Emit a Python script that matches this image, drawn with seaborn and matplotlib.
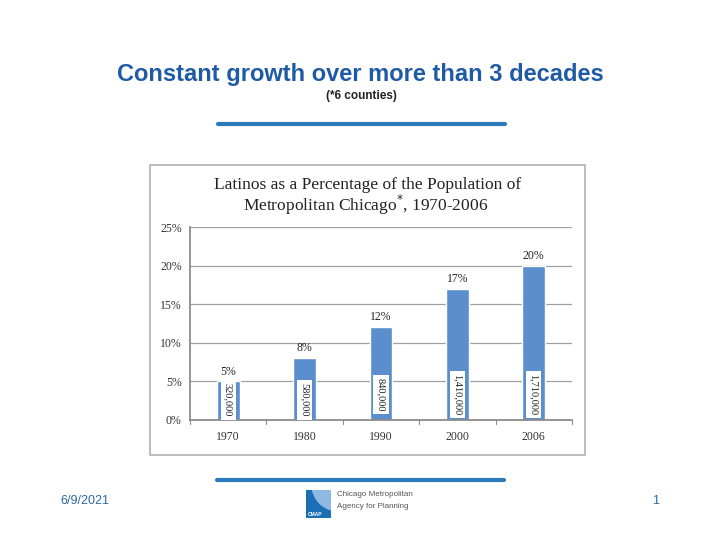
import numpy as np
import pandas as pd
import matplotlib.pyplot as plt
import matplotlib.patches as mpatches
import seaborn as sns

# Chart data
years = ["1970", "1980", "1990", "2000", "2006"]
share = [5, 8, 12, 17, 20]
population = ["320,000", "580,000", "840,000", "1,410,000", "1,710,000"]
yticks = [0, 5, 10, 15, 20, 25]

df = pd.DataFrame({"year": years, "share": share, "pop": population})

sns.set_theme(style="white")
plt.rcParams['font.family'] = ['Liberation Sans', 'DejaVu Sans']

fig = plt.figure(figsize=(7.2, 5.4), dpi=100)
W, H = 720, 540


def fx(x):
    return x / W


def fy(y):
    return 1 - y / H


# Slide title and subtitle
fig.text(fx(360), fy(75), "Constant growth over more than 3 decades",
         ha='center', va='center', fontsize=17, fontweight='bold',
         color='#1f5aa6')
fig.text(fx(361), fy(96), "(*6 counties)", ha='center', va='center',
         fontsize=8.5, fontweight='bold', color='#222222')

# Decorative blue rules
fig.add_artist(plt.Line2D([fx(218), fx(505)], [fy(124), fy(124)],
                          color='#2b7bba', lw=3))
fig.add_artist(plt.Line2D([fx(217), fx(504)], [fy(480), fy(480)],
                          color='#2b7bba', lw=3))

# Chart frame
fig.add_artist(mpatches.Rectangle((fx(150), fy(455)), fx(435), 290 / H,
                                  fill=False, ec='#b0b0b0', lw=1.2))
fig.text(fx(368), fy(185), "Latinos as a Percentage of the Population of",
         ha='center', va='center', fontsize=12.5, family='Liberation Serif',
         color='#222222')
fig.text(fx(366), fy(205), "Metropolitan Chicago$^{*}$, 1970-2006",
         ha='center', va='center', fontsize=12.5, family='Liberation Serif',
         color='#222222')

ax = fig.add_axes([fx(190), fy(420), fx(382), 193 / H])
sns.barplot(data=df, x="year", y="share", color='#5b8ecc', saturation=1,
            width=0.3, ax=ax)
ax.set_ylim(0, 25)
ax.set_xlim(-0.5, len(years) - 0.5)
ax.set_yticks(yticks)
ax.set_yticklabels([f"{t}%" for t in yticks], family='Liberation Serif',
                   fontsize=8.5, color='#333333')
ax.set_xticks(range(len(years)))
ax.set_xticklabels(years, family='Liberation Serif', fontsize=8.5,
                   color='#333333')
ax.tick_params(axis='x', length=0, pad=8)
ax.tick_params(axis='y', length=0, pad=6)
ax.yaxis.grid(True, color='#a0a0a0', lw=0.9)
ax.set_axisbelow(True)
for t in np.arange(-0.5, len(years), 1):
    ax.plot([t, t], [0, -0.5], color='#888888', lw=0.8, clip_on=False)
for s in ['top', 'right']:
    ax.spines[s].set_visible(False)
ax.spines['left'].set_color('#888888')
ax.spines['bottom'].set_color('#888888')
ax.set_xlabel("")
ax.set_ylabel("")

for i, (v, p) in enumerate(zip(share, population)):
    ax.text(i, v + 0.5, f"{v}%", ha='center', va='bottom',
            family='Liberation Serif', fontsize=8.5, color='#222222')
    ax.text(i, 2.6 if i < 2 else 3.3, p, ha='center', va='center',
            rotation=270, family='Liberation Serif', fontsize=7.5,
            color='#222222',
            bbox=dict(boxstyle='square,pad=0.3', fc='white', ec='none'))

# Footer
fig.text(fx(60), fy(501), "6/9/2021", ha='left', va='center', fontsize=9,
         color='#2a6aa0')
fig.text(fx(656), fy(501), "1", ha='center', va='center', fontsize=9,
         color='#2a6aa0')
logo = fig.add_axes([fx(306), fy(518), fx(25), 28 / H])
logo.set_xlim(0, 1)
logo.set_ylim(0, 1)
logo.axis('off')
logo.add_patch(mpatches.Rectangle((0, 0), 1, 1, fc='#1a6fb5', ec='none'))
logo.add_patch(mpatches.Wedge((1.2, 1.25), 1.0, 180, 270, fc='#8fb9e0',
                              ec='none'))
logo.text(0.05, 0.08, "CMAP", fontsize=3.5, color='white',
          fontweight='bold')
fig.text(fx(337), fy(494), "Chicago Metropolitan", ha='left', va='center',
         fontsize=5.8, color='#555555')
fig.text(fx(337), fy(507), "Agency for Planning", ha='left', va='center',
         fontsize=5.8, color='#555555')

fig.savefig("out.png", dpi=100)
